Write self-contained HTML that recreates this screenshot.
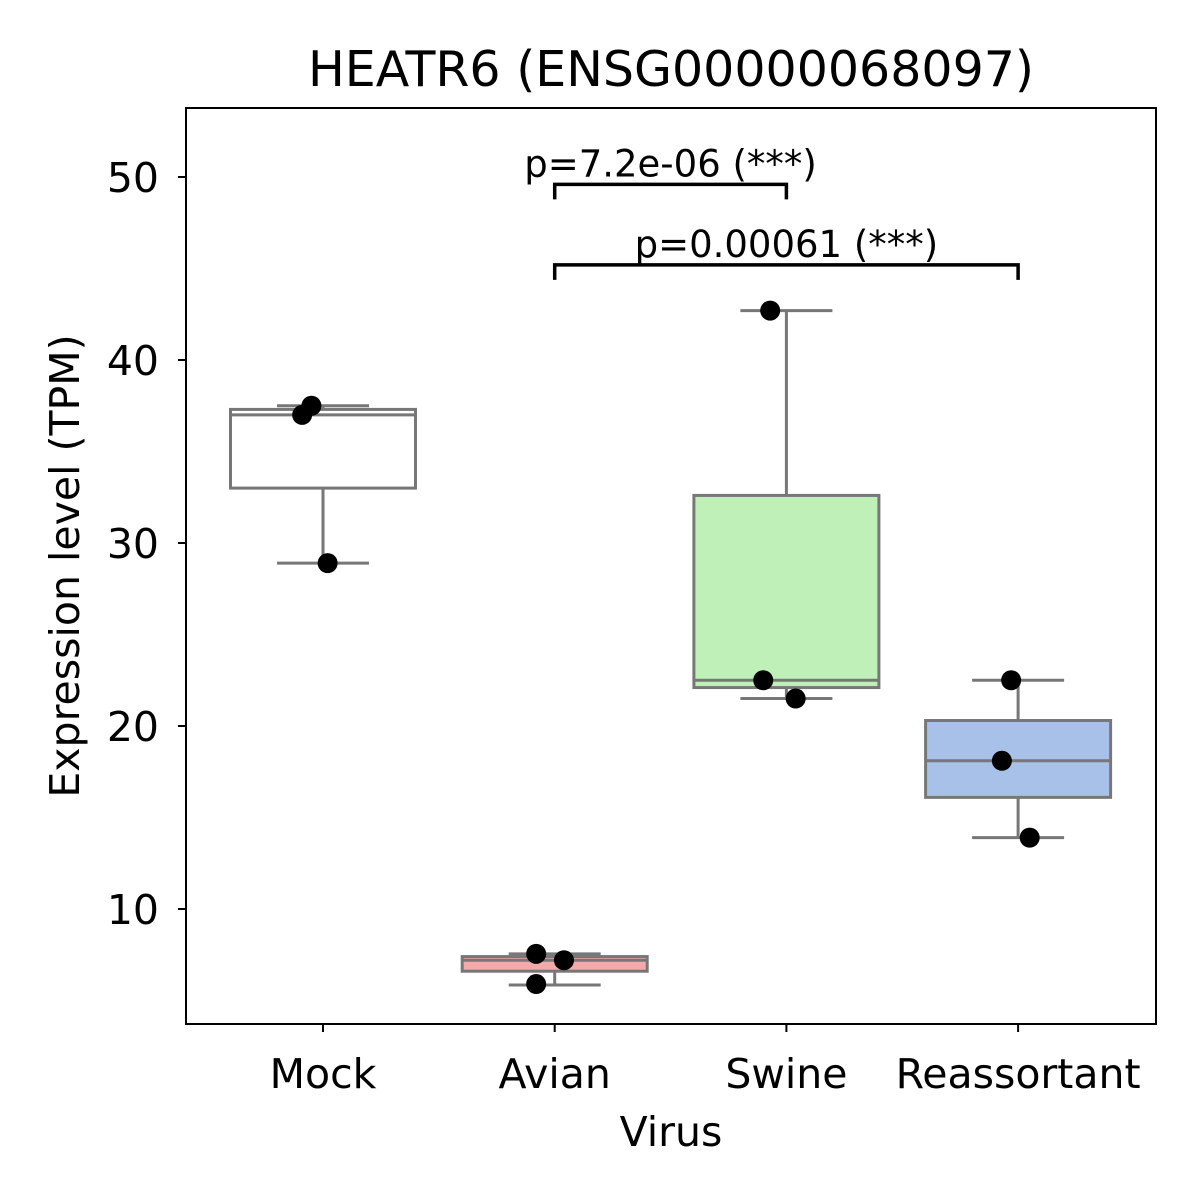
<!DOCTYPE html>
<html><head><meta charset="utf-8"><style>
body{margin:0;background:#fff;}
svg{display:block;font-family:"DejaVu Sans","Liberation Sans",sans-serif;}
</style></head><body>
<svg id="chart" width="1200" height="1200" viewBox="0 0 1200 1200">
<rect width="1200" height="1200" fill="#fff"/>
<g id="plot"></g>
<text x="671" y="86" font-size="49" text-anchor="middle">HEATR6 (ENSG00000068097)</text>
<text x="671" y="1146" font-size="41" text-anchor="middle">Virus</text>
<text transform="translate(79,566) rotate(-90)" font-size="41" text-anchor="middle">Expression level (TPM)</text>
<rect x="186" y="108" width="970" height="916" fill="none" stroke="#000" stroke-width="2"/>
</svg>
<script>
const categories = ["Mock","Avian","Swine","Reassortant"];
const colors = ["#ffffff","#f2aaaa","#bff0b8","#a8c1e9"];
const whiskerLow = [28.9, 5.85, 21.5, 13.9];
const q1 = [33.0, 6.6, 22.1, 16.1];
const medians = [37.0, 7.2, 22.5, 18.1];
const q3 = [37.3, 7.4, 32.6, 20.3];
const whiskerHigh = [37.5, 7.55, 42.7, 22.5];
const points = [[37.0,37.5,28.9],[7.55,7.2,5.9],[42.7,22.5,21.5],[22.5,18.1,13.9]];
const jitter = [[-0.09,-0.05,0.02],[-0.08,0.04,-0.08],[-0.07,-0.1,0.04],[-0.03,-0.07,0.05]];
const yTicks = [10,20,30,40,50];
const brackets = [{a:1,b:2,y:49.6,label:"p=7.2e-06 (***)"},{a:1,b:3,y:45.2,label:"p=0.00061 (***)"}];

const NS="http://www.w3.org/2000/svg";
const g=document.getElementById('plot');
const y=v=>909-(v-10)*18.3;
const x=i=>323+i*231.7;
const bw=185;
function el(t,a,p){const e=document.createElementNS(NS,t);for(const k in a)e.setAttribute(k,a[k]);(p||g).appendChild(e);return e;}

yTicks.forEach(t=>{
  const l=el('line',{x1:178,x2:186,y1:y(t),y2:y(t),stroke:'#000','stroke-width':2});
  
  
  const tx=el('text',{x:159,y:y(t)+15,'font-size':41,'text-anchor':'end'});tx.textContent=t;
  
  
});
categories.forEach((c,i)=>{
  const cx=x(i);
  const l=el('line',{x1:cx,x2:cx,y1:1024,y2:1032,stroke:'#000','stroke-width':2});
  
  
  const tx=el('text',{x:cx,y:1088,'font-size':41,'text-anchor':'middle'});tx.textContent=c;
  
  
  const grp=el('g',{});
  
  
  const s={stroke:'#777','stroke-width':3};
  el('line',Object.assign({x1:cx,x2:cx,y1:y(whiskerLow[i]),y2:y(q1[i])},s),grp);
  el('line',Object.assign({x1:cx,x2:cx,y1:y(q3[i]),y2:y(whiskerHigh[i])},s),grp);
  el('line',Object.assign({x1:cx-46,x2:cx+46,y1:y(whiskerLow[i]),y2:y(whiskerLow[i])},s),grp);
  el('line',Object.assign({x1:cx-46,x2:cx+46,y1:y(whiskerHigh[i]),y2:y(whiskerHigh[i])},s),grp);
  el('rect',Object.assign({x:cx-bw/2,y:y(q3[i]),width:bw,height:y(q1[i])-y(q3[i]),fill:colors[i]},s),grp);
  el('line',Object.assign({x1:cx-bw/2,x2:cx+bw/2,y1:y(medians[i]),y2:y(medians[i])},s),grp);
  points[i].forEach((p,j)=>{
    const d=el('circle',{cx:cx+jitter[i][j]*231.7,cy:y(p),r:10,fill:'#000'});
    
    
  });
});
brackets.forEach((b,k)=>{
  const x1=x(b.a),x2=x(b.b),yy=y(b.y);
  const p=el('path',{d:`M${x1},${yy+15}V${yy}H${x2}V${yy+15}`,fill:'none',stroke:'#000','stroke-width':3.5});
  
  
  const t=el('text',{x:(x1+x2)/2,y:yy-8,'font-size':37,'text-anchor':'middle'});t.textContent=b.label;
  
  
});
</script>
</body></html>
